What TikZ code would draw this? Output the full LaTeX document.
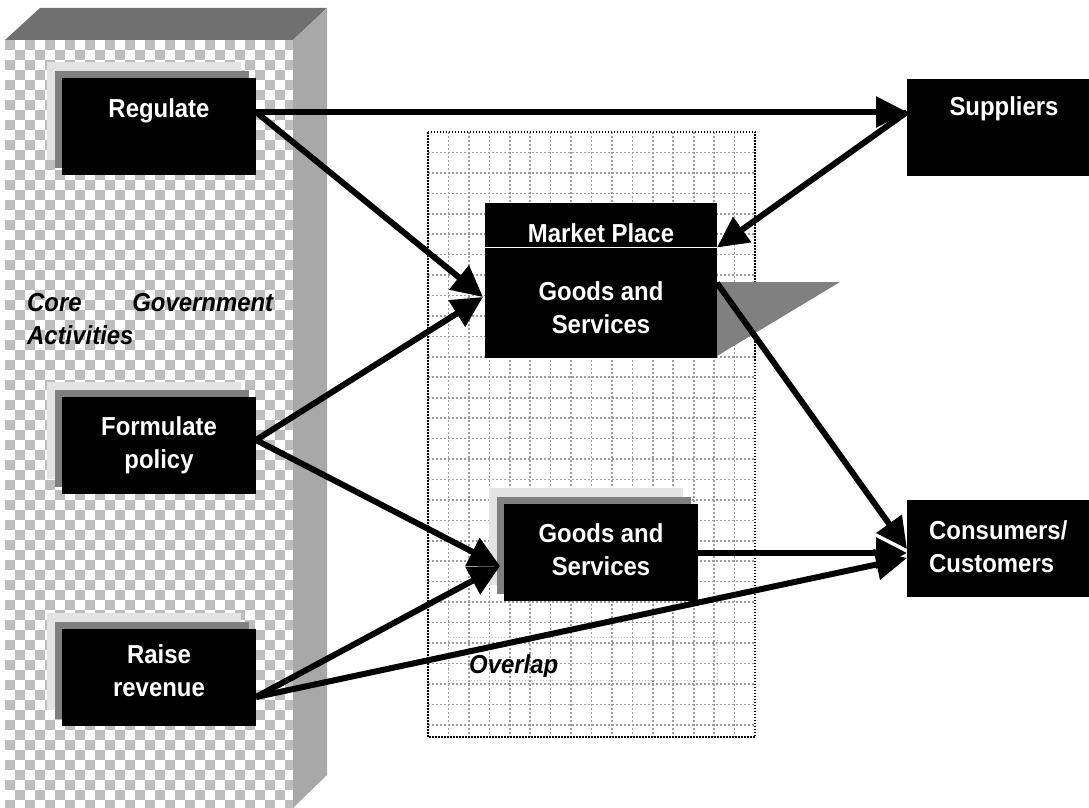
\documentclass[tikz,border=0pt]{standalone}
\usepackage{fontspec}
\setmainfont{Liberation Sans}
\newfontfamily\narrowsans[FakeStretch=0.92]{Liberation Sans}
\usetikzlibrary{arrows.meta,shadows}

\definecolor{checkgray}{HTML}{BEBEBE}
\definecolor{topface}{HTML}{707070}
\definecolor{sideface}{HTML}{A8A8A8}
\definecolor{shadowdark}{HTML}{808080}
\definecolor{shadowlight}{HTML}{E3E3E3}
\definecolor{gridgray}{HTML}{9C9C9C}
\definecolor{overlapgray}{HTML}{C4C4C4}

\begin{document}
\begin{tikzpicture}[x=1pt,y=-1pt,
  blackbox/.style={fill=black, draw=none, minimum width=194pt, minimum height=97pt,
                   inner sep=0pt, outer sep=0pt},
  shadowed/.style={general shadow={fill=shadowlight, shadow xshift=-15pt, shadow yshift=15.5pt},
                   general shadow={fill=shadowdark, shadow xshift=-7pt, shadow yshift=7pt}},
  boxtext/.style={text=white, font=\narrowsans\fontsize{26}{33}\selectfont\bfseries,
                  inner sep=0pt, anchor=base},
  sidetext/.style={text=black, font=\narrowsans\fontsize{26}{33}\selectfont\bfseries\itshape,
                   inner sep=0pt, anchor=base west},
  flow/.style={line width=6pt, -{Triangle[length=31pt,width=30pt]}},
  gridline/.style={gridgray, line width=1.6pt, dash pattern=on 1.5pt off 2.5pt},
]
\useasboundingbox (0,0) rectangle (1089,808);

% ---- government slab: checkered front, shaded top and side ----
\begin{scope}
  \clip (5,40) rectangle (293,808);
  \foreach \i in {0,...,28}{
    \foreach \j in {0,...,77}{
      \ifodd\numexpr\i+\j\relax\else
        \fill[checkgray] (5+10*\i,40+10*\j) rectangle ++(10,10);
      \fi
    }
  }
\end{scope}
\fill[topface] (5,40) -- (40,8) -- (327,8) -- (293,40) -- cycle;
\fill[sideface] (293,40) -- (327,8) -- (327,775) -- (293,808) -- cycle;

% ---- market area: dotted grid ----
\foreach \k in {1,...,15}{
  \draw[gridline] (428+20.44*\k,132) -- (428+20.44*\k,737);
}
\foreach \k in {1,...,29}{
  \draw[gridline] (428,132+20.44*\k) -- (755,132+20.44*\k);
}
\draw[black, line width=1.6pt, dash pattern=on 1.5pt off 1.5pt] (428,132) rectangle (755,737);
\draw[overlapgray, line width=1pt, dash pattern=on 1pt off 2pt] (448,637) rectangle (717,680);

% ---- gray wedge beside the market place ----
\fill[shadowdark] (717,282) -- (840,282) -- (717,356) -- cycle;

% ---- boxes ----
\node[blackbox, shadowed] (reg) at (159,126.5) {};
\node[blackbox, shadowed] (form) at (159,445.5) {};
\node[blackbox, shadowed] (raise) at (159,677) {};
\node[blackbox] (sup) at (1004,127) {};
\node[blackbox] (cons) at (1004,548) {};
\node[blackbox, shadowed] (lgs) at (601,552) {};
\node[blackbox, minimum width=232pt, minimum height=155pt] (mkt) at (601,280.5) {};
\draw[white, line width=1.5pt] ([yshift=-44.5pt]mkt.north west) -- ([yshift=-44.5pt]mkt.north east);

% ---- connectors ----
\draw[flow] ([yshift=14.5pt]reg.east) -- ([yshift=15pt]sup.west);
\draw[flow] ([yshift=14.5pt]reg.east) -- ([xshift=-2pt,yshift=-16.5pt]mkt.west);
\draw[flow] ([yshift=5.5pt]form.east) -- ([xshift=-2pt,yshift=-16.5pt]mkt.west);
\draw[flow] ([yshift=5.5pt]form.east) -- ([xshift=-4pt,yshift=-14pt]lgs.west);
\draw[flow] ([yshift=-20pt]raise.east) -- ([xshift=-4pt,yshift=-14pt]lgs.west);
\draw[flow] ([yshift=-20pt]raise.east) -- ([yshift=-10pt]cons.west);
\draw[flow] ([yshift=15pt]sup.west) -- ([yshift=-44.5pt]mkt.north east);
\draw[flow] ([yshift=-2.5pt]mkt.east) -- ([yshift=-1pt]cons.west);
\draw[flow] ([yshift=-1pt]lgs.east) -- ([yshift=-5pt]cons.west);

% ---- texts ----
\node[boxtext] (regT) at ([yshift=-39pt]reg.north) {\parbox[t]{190pt}{\centering Regulate}};
\node[boxtext] (formT) at ([yshift=-38pt]form.north) {\parbox[t]{190pt}{\centering Formulate\\policy}};
\node[boxtext] (raiseT) at ([yshift=-35pt]raise.north) {\parbox[t]{190pt}{\centering Raise\\revenue}};
\node[boxtext] (supT) at ([yshift=-37pt]sup.north) {\parbox[t]{190pt}{\centering Suppliers}};
\node[boxtext, anchor=base west] (consT) at ([xshift=22pt,yshift=-40pt]cons.north west)
  {\parbox[t]{170pt}{\raggedright Consumers/\\Customers}};
\node[boxtext] (lgsT) at ([yshift=-39pt]lgs.north) {\parbox[t]{190pt}{\centering Goods and\\Services}};
\node[boxtext] (mktT) at ([yshift=-39pt]mkt.north) {Market Place};
\node[boxtext] (mktG) at ([yshift=-97pt]mkt.north) {\parbox[t]{228pt}{\centering Goods and\\Services}};

\node[sidetext] (core) at (27,311) {\parbox[t]{246pt}{Core\hfill Government\\Activities}};
\begin{scope}
  \clip (448,637) rectangle (717,676);
  \node[sidetext] (overlap) at (469,673) {Overlap};
\end{scope}
\end{tikzpicture}
\end{document}
